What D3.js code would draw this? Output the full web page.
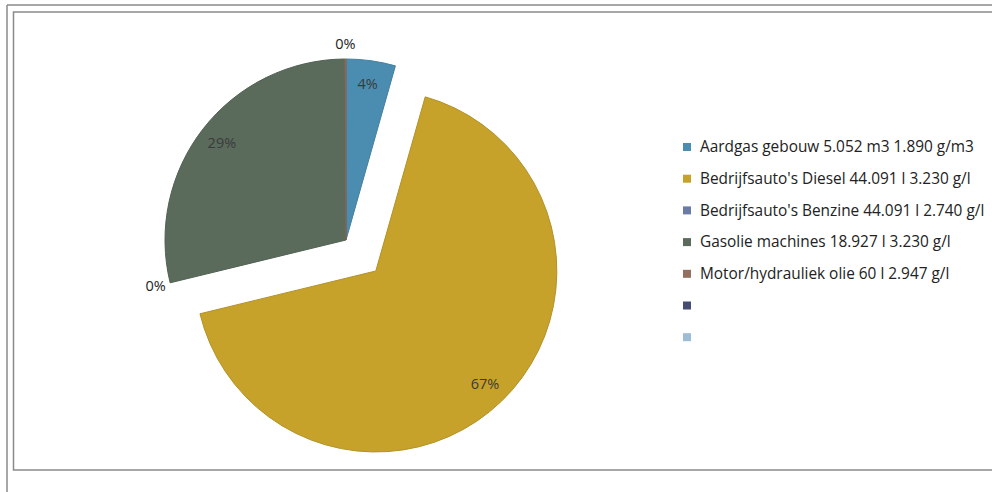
<!DOCTYPE html>
<html>
<head>
<meta charset="utf-8">
<script src="https://cdn.jsdelivr.net/npm/d3@7"></script>
<style>
  body { margin: 0; background: #fff; }
  svg { display: block; font-family: "Open Sans", Lato, sans-serif; }
</style>
</head>
<body>
<svg id="chart" width="992" height="492"></svg>
<script>
// Categories (legend order) and share of emissions in percent
const categories = [
  "Aardgas gebouw 5.052 m3 1.890 g/m3",
  "Bedrijfsauto's Diesel 44.091 l 3.230 g/l",
  "Bedrijfsauto's Benzine 44.091 l 2.740 g/l",
  "Gasolie machines 18.927 l 3.230 g/l",
  "Motor/hydrauliek olie 60 l 2.947 g/l",
  "",
  ""
];
const values = [4.4, 66.8, 0, 28.7, 0.1, null, null];
const colors = ["#4b8db0", "#c6a22b", "#6a7ca6", "#5a6b5c", "#94705e", "#454d72", "#9dbcd6"];
const exploded = [false, true, false, false, false, false, false];

const svg = d3.select("#chart");

// Frames (scanned page look)
svg.append("line").attr("x1", 7).attr("y1", 5).attr("x2", 7).attr("y2", 492)
  .attr("stroke", "#8a8a8a").attr("stroke-width", 1.5);
svg.append("line").attr("x1", 7).attr("y1", 5).attr("x2", 992).attr("y2", 5)
  .attr("stroke", "#8a8a8a").attr("stroke-width", 1.5);
svg.append("rect").attr("x", 13.5).attr("y", 12).attr("width", 990).attr("height", 458)
  .attr("fill", "none").attr("stroke", "#8a8a8a").attr("stroke-width", 1.5);

// Pie
const cx = 346, cy = 240, r = 181, explode = 43;
const data = categories.map((c, i) => ({name: c, value: values[i], color: colors[i], exploded: exploded[i]}))
  .filter(d => d.value !== null);

const pie = d3.pie().sort(null).value(d => d.value);
const arcs = pie(data);
const arc = d3.arc().innerRadius(0).outerRadius(r);

const g = svg.append("g").attr("transform", `translate(${cx},${cy})`);

function offset(d) {
  if (!d.data.exploded) return [0, 0];
  const a = (d.startAngle + d.endAngle) / 2;
  return [Math.sin(a) * explode, -Math.cos(a) * explode];
}

g.selectAll("path")
  .data(arcs.filter(d => d.value > 0))
  .enter()
  .append("path")
  .attr("d", arc)
  .attr("transform", d => `translate(${offset(d)})`)
  .attr("fill", d => d.data.color)
  .attr("stroke", d => d3.color(d.data.color).darker(0.3))
  .attr("stroke-width", 1);

// Data labels
g.selectAll("text.lbl")
  .data(arcs)
  .enter()
  .append("text")
  .attr("class", "lbl")
  .attr("transform", d => {
    const a = (d.startAngle + d.endAngle) / 2;
    const o = offset(d);
    const dist = d.value > 1 ? r * 0.87 : r + 15;
    return `translate(${o[0] + Math.sin(a) * dist},${o[1] - Math.cos(a) * dist})`;
  })
  .attr("text-anchor", "middle")
  .attr("dy", "0.35em")
  .attr("font-size", 14.5)
  .attr("fill", d => d.value > 1 ? "#3a3a3a" : "#222")
  .text(d => Math.round(d.value) + "%");

// Legend
const legend = svg.append("g").attr("transform", "translate(683,147)");
const rowH = 31.7;
const item = legend.selectAll("g")
  .data(categories)
  .enter()
  .append("g")
  .attr("transform", (d, i) => `translate(0,${i * rowH})`);
item.append("rect")
  .attr("x", 0).attr("y", -4)
  .attr("width", 8).attr("height", 8)
  .attr("fill", (d, i) => colors[i]);
item.append("text")
  .attr("x", 17).attr("dy", "0.35em")
  .attr("font-size", 15.4)
  .attr("fill", "#222")
  .text(d => d);
</script>
</body>
</html>
